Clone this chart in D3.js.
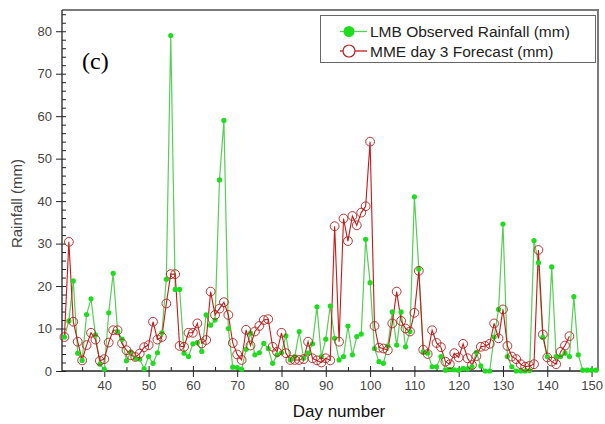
<!DOCTYPE html>
<html><head><meta charset="utf-8">
<script src="https://cdn.jsdelivr.net/npm/d3@7/dist/d3.min.js"></script>
<style>body{margin:0;background:#fff}svg{display:block}</style>
</head><body>
<svg id="c" width="605" height="424"></svg>
<script>
const firstDay = 31;
const observed = [8,11.8,21.2,4.2,2.5,13.3,17,8.5,1.6,0.4,
13.7,23,9.3,7.5,2.4,4.5,3,2.8,0.5,3.4,
1.8,4.3,9,21.6,79,19.2,19.2,4.2,3.4,6.4,
6.7,4.6,13.2,10.8,12,45,59,10,0.9,0.8,
0.4,5.1,8.9,3.8,4.3,6.5,5.3,1.8,3.8,4.3,
8.3,2.6,3.4,9.3,3,4.2,6.4,15.1,3.4,7.5,
15.3,7.7,2.6,3.4,10.6,3.8,8.1,8.7,31,20.8,
5.3,2.2,1.8,5.9,13.9,6.1,13.9,5.7,9.3,41,
24,4.5,4.2,1,1,3.4,0.2,0.4,0.3,0.2,
0.6,0.5,1,4.4,1.2,0,0,8,14.5,34.6,
3.4,1,0,0,0,0.1,30.7,25.5,7.9,3.4,
24.5,3.4,3.4,4.2,3.4,17.5,3.8,0.2,0.2,0.2,0.2];
const forecast = [8,30.4,11.6,6.9,2.5,6.1,9,7.4,2.4,2.8,
6.7,9.6,9.6,6.5,4.9,3.7,3.3,4.1,5.6,6.1,
11.6,7.4,8,15.9,22.8,22.8,5.9,5.7,9,9,
11.2,6.5,7.3,18.7,13.2,14.7,16.2,13.2,6.6,3.9,
2.6,9.7,6,9.3,10.6,12,12.2,5.7,4.5,9,
4.2,2.6,2.6,2.6,2.8,6.9,3,2.5,2,3,
2.5,34.1,6.9,35.9,30.6,36.5,34.3,37.3,38.8,54,
10.6,5.5,5.3,4.9,11.2,18.7,11.8,10,9.3,13.7,
23.6,5,4,9.6,6.6,5.6,2.2,1.6,4.2,3.2,
6.4,3,1.4,3.5,5.7,5.9,6.4,11.2,7.7,14.5,
5.9,3.4,2.8,1.6,1,1.2,1.6,28.5,8.6,3.2,
2.2,1.6,4.5,6,8.2];
const xTicks = [40,50,60,70,80,90,100,110,120,130,140,150];
const xMinor = [35,45,55,65,75,85,95,105,115,125,135,145];
const yTicks = [0,10,20,30,40,50,60,70,80];
const seriesNames = ["LMB Observed Rainfall (mm)","MME day 3 Forecast (mm)"];

const obsData = observed.map((v,i)=>({d:firstDay+i,v}));
const fcData = forecast.map((v,i)=>({d:firstDay+i,v}));

const svg = d3.select("#c");
const L=62, R=598, T=10, B=371;
const x = d3.scaleLinear().domain([30.45,151.45]).range([L,R]);
const y = d3.scaleLinear().domain([0,85]).range([B,T]);
const font = "'Liberation Sans', Arial, sans-serif";

svg.append("path").attr("d",`M${L},${T}H${R}V${B}`).attr("fill","none")
  .attr("stroke","#7a7a7a").attr("stroke-width",2);

const yMinorVals = d3.range(0,85,2).filter(v=>v%10!==0);
const gy = svg.append("g").attr("transform",`translate(${L},0)`);
gy.call(d3.axisLeft(y).tickValues(yMinorVals).tickSize(-4).tickFormat(""))
  .call(g=>g.select(".domain").remove());
gy.append("g").call(d3.axisLeft(y).tickValues(yTicks).tickSize(6).tickPadding(4))
  .call(g=>g.select(".domain").remove())
  .call(g=>g.selectAll(".tick line").attr("x1",4))
  .call(g=>g.selectAll("text").attr("font-family",font).attr("font-size",13).attr("fill","#444"));
gy.selectAll("line").attr("stroke","#222");

const gx = svg.append("g").attr("transform",`translate(0,${B})`);
gx.call(d3.axisBottom(x).tickValues(xMinor).tickSize(-4).tickFormat(""))
  .call(g=>g.select(".domain").remove());
gx.append("g").call(d3.axisBottom(x).tickValues(xTicks).tickSize(6).tickPadding(4))
  .call(g=>g.select(".domain").remove())
  .call(g=>g.selectAll(".tick line").attr("y1",-5))
  .call(g=>g.selectAll("text").attr("font-family",font).attr("font-size",13).attr("fill","#444"));
gx.selectAll("line").attr("stroke","#222");

svg.append("line").attr("x1",L).attr("x2",L).attr("y1",T).attr("y2",B).attr("stroke","#222").attr("stroke-width",1.3);
svg.append("line").attr("x1",L).attr("x2",R).attr("y1",B).attr("y2",B).attr("stroke","#222").attr("stroke-width",1.3);

const gColor = "#1fdc1f", gLine = "#55cf55";
const rColor = "#c81818", rMark = "#b02020";
const line = d3.line().x(p=>x(p.d)).y(p=>y(p.v));

svg.append("path").datum(obsData).attr("d",line).attr("fill","none").attr("stroke",gLine).attr("stroke-width",1.2);
svg.append("path").datum(fcData).attr("d",line).attr("fill","none").attr("stroke",rColor).attr("stroke-width",1.1);
svg.append("g").selectAll("circle").data(obsData).join("circle")
  .attr("cx",p=>x(p.d)).attr("cy",p=>y(p.v)).attr("r",2.6).attr("fill",gColor);
svg.append("g").selectAll("circle").data(fcData).join("circle")
  .attr("cx",p=>x(p.d)).attr("cy",p=>y(p.v)).attr("r",4.4).attr("fill","none")
  .attr("stroke",rMark).attr("stroke-width",0.9);

svg.append("text").attr("x",82).attr("y",69).attr("font-family","'Liberation Serif', 'Times New Roman', serif")
  .attr("font-size",24).attr("fill","#000").text("(c)");
svg.append("text").attr("x",(L+R)/2+9).attr("y",417).attr("text-anchor","middle")
  .attr("font-family",font).attr("font-size",17).attr("fill","#111").text("Day number");
svg.append("text").attr("transform",`translate(22,${(T+B)/2+13}) rotate(-90)`).attr("text-anchor","middle")
  .attr("font-family",font).attr("font-size",15).attr("fill","#444").text("Rainfall (mm)");

const lg = svg.append("g");
lg.append("rect").attr("x",320.5).attr("y",15.5).attr("width",275).attr("height",47)
  .attr("fill","#fff").attr("stroke","#666").attr("stroke-width",1);
const items = [{name:seriesNames[0],type:"obs",yy:31.5},{name:seriesNames[1],type:"fc",yy:51}];
items.forEach(it=>{
  lg.append("line").attr("x1",340).attr("x2",367).attr("y1",it.yy).attr("y2",it.yy)
    .attr("stroke",it.type==="obs"?gLine:rColor).attr("stroke-width",1.3);
  if(it.type==="obs") lg.append("circle").attr("cx",349).attr("cy",it.yy).attr("r",5.5).attr("fill",gColor);
  else lg.append("circle").attr("cx",349).attr("cy",it.yy).attr("r",6).attr("fill","#fff").attr("stroke",rMark).attr("stroke-width",1.2);
  lg.append("text").attr("x",370).attr("y",it.yy+5.5).attr("font-family",font).attr("font-size",15.5)
    .attr("fill","#222").text(it.name);
});
</script>
</body></html>
